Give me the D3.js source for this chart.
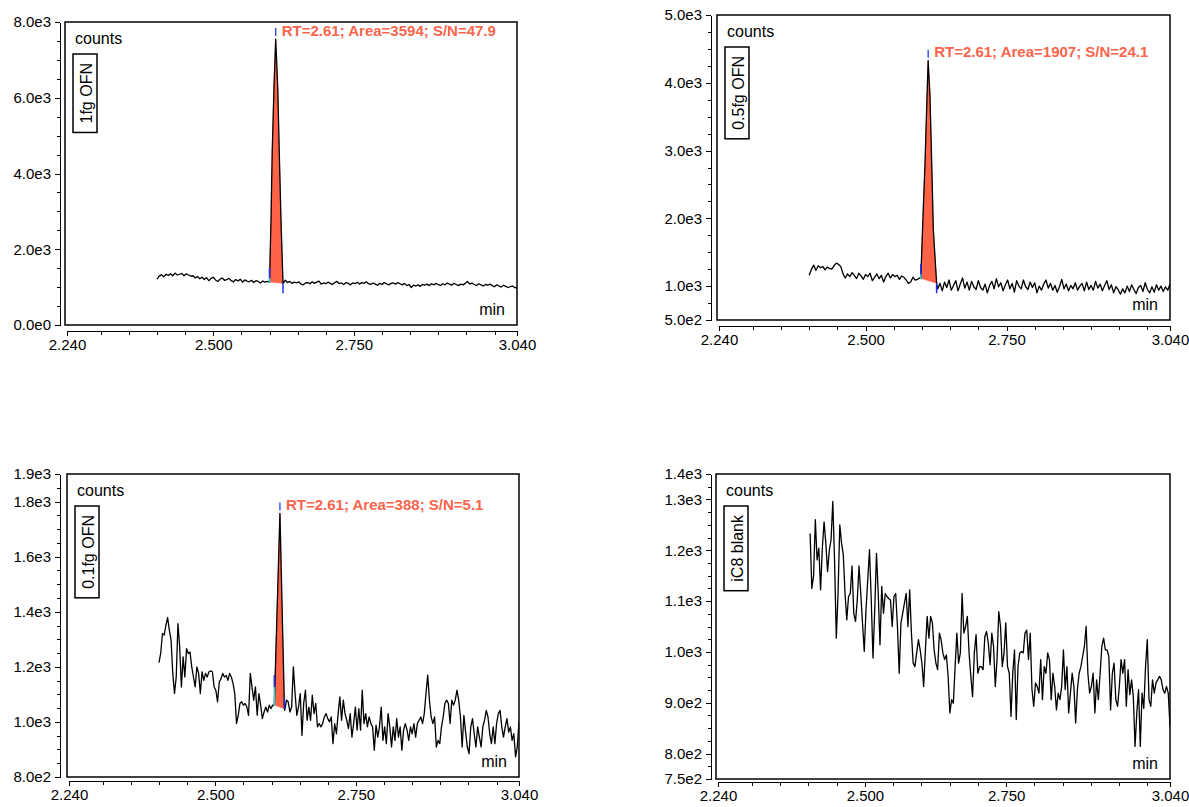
<!DOCTYPE html>
<html>
<head>
<meta charset="utf-8">
<script src="https://cdn.jsdelivr.net/npm/d3@7"></script>
<style>
  body { margin: 0; background: #fff; }
  svg { display: block; font-family: "Liberation Sans", Arial, sans-serif; }
  .axis path, .axis line { stroke: #000; stroke-width: 1; shape-rendering: crispEdges; }
  .axis text { font-size: 15px; fill: #000; font-family: "Liberation Sans", Arial, sans-serif; }
</style>
</head>
<body>
<svg id="chart" width="1189" height="807"></svg>
<script>
// ---- data ----
const panelNames = ["1fg OFN", "0.5fg OFN", "0.1fg OFN", "iC8 blank"];
const peakLabels = ["RT=2.61; Area=3594; S/N=47.9", "RT=2.61; Area=1907; S/N=24.1", "RT=2.61; Area=388; S/N=5.1", null];

const xTicks = [2.24, 2.5, 2.75, 3.04];
const xTickLabels = ["2.240", "2.500", "2.750", "3.040"];
const xMinor = [2.30, 2.35, 2.40, 2.45, 2.55, 2.60, 2.65, 2.70, 2.80, 2.85, 2.90, 2.95, 3.00];

const yDomains = [[0, 8000], [500, 5000], [800, 1900], [750, 1350]];
const yTicks = [
  [0, 2000, 4000, 6000, 8000],
  [500, 1000, 2000, 3000, 4000, 5000],
  [800, 1000, 1200, 1400, 1600, 1800, 1900],
  [750, 800, 900, 1000, 1100, 1200, 1300, 1350]
];
const yTickLabels = [
  ["0.0e0", "2.0e3", "4.0e3", "6.0e3", "8.0e3"],
  ["5.0e2", "1.0e3", "2.0e3", "3.0e3", "4.0e3", "5.0e3"],
  ["8.0e2", "1.0e3", "1.2e3", "1.4e3", "1.6e3", "1.8e3", "1.9e3"],
  ["7.5e2", "8.0e2", "9.0e2", "1.0e3", "1.1e3", "1.2e3", "1.3e3", "1.4e3"]
];
const yMinorSteps = [500, 250, 50, 25];

// sampled traces (evenly spaced between traceStart and traceEnd, minutes)
const traceStart = [2.400, 2.400, 2.400, 2.403];
const traceEnd = [3.040, 3.040, 3.040, 3.040];

const trace1 = [
  1210, 1290, 1330, 1270, 1340, 1310, 1350, 1300, 1370, 1320,
  1340, 1360, 1300, 1350, 1320, 1290, 1300, 1240, 1280, 1220,
  1260, 1200, 1250, 1170, 1230, 1260, 1190, 1150, 1210, 1240,
  1180, 1200, 1230, 1170, 1140, 1200, 1160, 1210, 1130, 1190,
  1160, 1140, 1180, 1120, 1170, 1150, 1110, 1160, 1130, 1150,
  1135, 1130, 1120, 1120, 1110, 1110, 1100,
  1180, 1120, 1150, 1100, 1130, 1110, 1140, 1080, 1060, 1110,
  1120, 1090, 1140, 1100, 1130, 1160, 1080, 1110, 1090, 1130,
  1100, 1070, 1120, 1150, 1090, 1110, 1070, 1120, 1100, 1060,
  1110, 1090, 1130, 1080, 1120, 1100, 1140, 1090, 1070, 1110,
  1080, 1050, 1100, 1070, 1120, 1090, 1060, 1100, 1110, 1080,
  1120, 1090, 1060, 1100, 1040, 1070, 990, 1050, 1030, 1060,
  1020, 1070, 1050, 1080, 1040, 1090, 1060, 1100, 1070, 1040,
  1090, 1060, 1110, 1080, 1050, 1100, 1070, 1040, 1080, 1060,
  1100, 1150, 1080, 1110, 1070, 1040, 1090, 1060, 1030, 1070,
  1050, 1080, 1040, 1010, 1060, 1030, 1000, 1050, 1020, 990,
  1010, 1030, 990, 980
];

const trace2 = [
  1160, 1250, 1310, 1230, 1300, 1270, 1290, 1240, 1280, 1260,
  1250, 1300, 1340, 1320, 1290, 1180, 1120, 1180, 1140, 1200,
  1160, 1110, 1190, 1150, 1100, 1170, 1140, 1190, 1080, 1130,
  1180, 1110, 1160, 1060, 1140, 1190, 1120, 1170, 1140, 1160,
  1100, 1150, 1130, 1090, 1040, 1060, 1130, 1090, 1100, 1120,
  1115, 1100, 1090, 1080, 1070, 1060, 1050,
  960, 1040, 930, 1060, 980, 1090, 940, 1010, 1080, 930,
  1030, 1120, 970, 1060, 940, 1070, 990, 950, 1080, 980,
  940, 1030, 900, 1010, 1070, 960, 1110, 990, 1050, 930,
  1020, 1090, 960, 1040, 910, 1080, 1000, 960, 1090, 990,
  950, 1060, 980, 1050, 900, 1000, 940, 1030, 1090, 970,
  1040, 940, 1010, 910, 990, 1100, 960, 1030, 930, 1010,
  960, 1050, 940, 1000, 1040, 930, 1060, 950, 1010, 940,
  1070, 970, 1030, 930, 1010, 1080, 950, 1020, 900, 990,
  950, 880, 960, 900, 1000, 920, 1020, 950, 890, 980,
  1010, 920, 1050, 950, 900, 990, 910, 1020, 940, 1000,
  920, 990, 940, 1030
];

const trace3 = [
  1215, 1250, 1321, 1315, 1350, 1379, 1333, 1297, 1176, 1103,
  1163, 1357, 1272, 1127, 1236, 1163, 1266, 1248, 1254, 1200,
  1163, 1127, 1200, 1176, 1103, 1182, 1151, 1176, 1163, 1182,
  1185, 1182, 1127, 1115, 1073, 1145, 1157, 1176, 1163, 1169,
  1151, 1176, 1163, 1139, 1103, 994, 1024, 1067, 1073, 1061,
  1067, 1054, 1024, 1176, 1127, 1079, 1127, 1024, 1103, 1061,
  1012, 1036, 1054, 1036, 1061, 1048, 1061, 1061, 1055, 1050,
  1050, 1048, 1048, 1042, 1079, 1073, 1036, 1054, 1200, 1103,
  1024, 1054, 1103, 951, 1067, 1115, 1006, 1054, 1006, 1097,
  1030, 1067, 982, 994, 982, 994, 1018, 1030, 1012, 1000,
  1018, 921, 994, 957, 1030, 1091, 1006, 1079, 1030, 1006,
  976, 1030, 945, 994, 1054, 970, 1048, 970, 1115, 994,
  1030, 982, 1018, 994, 982, 897, 988, 945, 982, 1054,
  933, 982, 921, 1030, 982, 909, 982, 933, 1012, 945,
  982, 897, 970, 994, 970, 933, 982, 957, 994, 945,
  994, 1006, 1018, 994, 1030, 1103, 1170, 1079, 1018, 994,
  1018, 909, 933, 921, 982, 1018, 1067, 1079, 1067, 994,
  1079, 1061, 1079, 1115, 1079, 1018, 909, 1024, 963, 909,
  885, 982, 1012, 957, 909, 982, 945, 909, 982, 1006,
  1042, 1018, 957, 921, 982, 921, 994, 1030, 1042, 982,
  945, 982, 1012, 963, 982, 933, 957, 873, 909, 1000
];

const trace4 = [
  1233, 1125, 1150, 1260, 1181, 1204, 1122, 1204, 1256, 1214,
  1158, 1200, 1221, 1296, 1180, 1027, 1115, 1250, 1214, 1191,
  1115, 1063, 1109, 1115, 1169, 1076, 1060, 1102, 1169, 1115,
  1057, 1001, 1083, 1142, 1201, 1102, 988, 1083, 1194, 1115,
  1014, 1129, 1076, 1115, 1109, 1105, 1102, 1050, 1109, 1115,
  1050, 958, 1057, 1076, 1096, 1115, 1050, 1122, 1037, 978,
  971, 998, 1024, 1004, 978, 932, 1004, 1070, 1027, 1070,
  1057, 1004, 978, 965, 1037, 1024, 998, 985, 994, 952,
  880, 906, 899, 971, 1037, 978, 998, 1115, 1037, 1050,
  1070, 998, 952, 912, 998, 1034, 958, 971, 971, 965,
  1030, 1040, 1017, 975, 1037, 1011, 932, 985, 1079, 1050,
  971, 998, 1057, 971, 958, 873, 958, 1004, 867, 971,
  998, 1001, 998, 1037, 1043, 985, 1037, 926, 893, 939,
  932, 919, 985, 906, 971, 958, 998, 985, 906, 958,
  932, 886, 919, 906, 932, 1004, 926, 971, 880, 919,
  958, 932, 860, 926, 958, 971, 991, 1011, 1050, 958,
  919, 932, 958, 880, 945, 906, 958, 1011, 1027, 1004,
  1004, 991, 886, 958, 978, 906, 893, 932, 985, 958,
  985, 893, 965, 916, 945, 912, 814, 880, 926, 814,
  919, 889, 971, 1024, 906, 893, 945, 919, 939, 945,
  952, 945, 926, 919, 932, 919, 854
];

// integrated peaks: time (min) and counts, start .. apex .. end
const peakT1 = [2.600, 2.6027, 2.6048, 2.608, 2.611, 2.6146, 2.6174, 2.6204, 2.624];
const peakV1 = [1135, 2770, 4540, 6290, 7550, 6290, 4540, 2770, 1100];
const peakT2 = [2.598, 2.601, 2.6054, 2.609, 2.611, 2.6143, 2.6173, 2.6202, 2.626];
const peakV2 = [1115, 1828, 2811, 3794, 4325, 3794, 2811, 1828, 1041];
const peakT3 = [2.605, 2.615, 2.623];
const peakV3 = [1061, 1757, 1048];

const traces = [trace1, trace2, trace3, trace4];
const peakTs = [peakT1, peakT2, peakT3, null];
const peakVs = [peakV1, peakV2, peakV3, null];

// ---- layout ----
const layout = [
  { left: 65, right: 517, top: 22, bottom: 325, axisX: 60, axisY: 331, startMark: [14, 4], endDir: 1 },
  { left: 717, right: 1170, top: 15, bottom: 320, axisX: 711, axisY: 326, startMark: [14, 4], endDir: 1 },
  { left: 67, right: 519, top: 474, bottom: 777, axisX: 60, axisY: 781, startMark: [30, 18], endDir: -1 },
  { left: 716, right: 1170, top: 474, bottom: 779, axisX: 711, axisY: 782, startMark: [14, 4], endDir: 1 }
];

const peakText = "#f9654c";
const peakFill = "#ff6347";

const svg = d3.select("#chart");

function buildSeries(vals, t0, t1, pT, pV) {
  const n = vals.length;
  const pts = vals.map((v, i) => ({ t: t0 + i * (t1 - t0) / (n - 1), v }));
  if (!pT) return pts;
  const a = pT[0], b = pT[pT.length - 1];
  const peak = pT.map((t, i) => ({ t, v: pV[i] }));
  return pts.filter(d => d.t < a - 1e-6)
    .concat(peak, pts.filter(d => d.t > b + 1e-6));
}

layout.forEach((L, k) => {
  const g = svg.append("g");

  const xs = d3.scaleLinear().domain([2.24, 3.04]).range([L.left + 2, L.right]);
  const ys = d3.scaleLinear().domain(yDomains[k]).range([L.bottom, L.top]);

  const clipId = "clip" + k;
  g.append("clipPath").attr("id", clipId)
    .append("rect")
    .attr("x", L.left).attr("y", L.top)
    .attr("width", L.right - L.left).attr("height", L.bottom - L.top);

  const line = d3.line().x(d => xs(d.t)).y(d => ys(d.v));
  const series = buildSeries(traces[k], traceStart[k], traceEnd[k], peakTs[k], peakVs[k]);

  // peak area: curve closed by straight baseline
  if (peakTs[k]) {
    const pk = peakTs[k].map((t, i) => ({ t, v: peakVs[k][i] }));
    g.append("path")
      .attr("clip-path", `url(#${clipId})`)
      .attr("d", line(pk) + "Z")
      .attr("fill", peakFill)
      .attr("stroke", peakFill)
      .attr("stroke-width", 0.6);
  }

  g.append("path")
    .datum(series)
    .attr("clip-path", `url(#${clipId})`)
    .attr("d", line)
    .attr("fill", "none")
    .attr("stroke", "#000")
    .attr("stroke-width", 1.3)
    .attr("stroke-linejoin", "round");

  // plot frame
  g.append("rect")
    .attr("x", L.left).attr("y", L.top)
    .attr("width", L.right - L.left).attr("height", L.bottom - L.top)
    .attr("fill", "none").attr("stroke", "#000").attr("stroke-width", 1.5);

  // peak markers + label
  if (peakTs[k]) {
    const pT = peakTs[k], pV = peakVs[k];
    const n = pT.length;
    const apex = d3.maxIndex(pV);
    const sx = xs(pT[0]), sy = ys(pV[0]);
    g.append("line").attr("x1", sx).attr("x2", sx)
      .attr("y1", sy - L.startMark[0]).attr("y2", sy - L.startMark[1])
      .attr("stroke", "#1a2cff").attr("stroke-width", 1.5);
    g.append("line").attr("x1", sx).attr("x2", sx)
      .attr("y1", sy - L.startMark[1]).attr("y2", sy + 1)
      .attr("stroke", "#22d3d8").attr("stroke-width", 1.5);
    const ex = xs(pT[n - 1]), ey = ys(pV[n - 1]);
    g.append("line").attr("x1", ex).attr("x2", ex)
      .attr("y1", ey).attr("y2", ey + 10 * L.endDir)
      .attr("stroke", "#1a2cff").attr("stroke-width", 1.5);
    const ax = xs(pT[apex]), ay = ys(pV[apex]);
    g.append("line").attr("x1", ax).attr("x2", ax)
      .attr("y1", ay - 11).attr("y2", ay - 3)
      .attr("stroke", "#1a2cff").attr("stroke-width", 1.2);
    g.append("text")
      .attr("x", ax + 6).attr("y", ay - 9)
      .attr("dominant-baseline", "central")
      .attr("font-size", 15).attr("font-weight", "bold")
      .attr("fill", peakText)
      .text(peakLabels[k]);
  }

  // y axis (detached, left of frame)
  const yLab = yTickLabels[k];
  g.append("g").attr("class", "axis")
    .attr("transform", `translate(${L.axisX},0)`)
    .call(d3.axisLeft(ys).tickValues(yTicks[k])
      .tickFormat((d, i) => yLab[i]).tickSize(5).tickSizeOuter(0).tickPadding(4));
  const [y0, y1] = yDomains[k];
  const yMin = d3.range(y0, y1 + 1e-9, yMinorSteps[k]).filter(v => !yTicks[k].includes(v));
  g.append("g").attr("class", "axis")
    .attr("transform", `translate(${L.axisX},0)`)
    .call(d3.axisLeft(ys).tickValues(yMin).tickFormat("").tickSize(3).tickSizeOuter(0))
    .call(a => a.select(".domain").remove());

  // x axis (detached, below frame)
  g.append("g").attr("class", "axis")
    .attr("transform", `translate(0,${L.axisY})`)
    .call(d3.axisBottom(xs).tickValues(xTicks)
      .tickFormat((d, i) => xTickLabels[i]).tickSize(5).tickSizeOuter(0).tickPadding(3));
  g.append("g").attr("class", "axis")
    .attr("transform", `translate(0,${L.axisY})`)
    .call(d3.axisBottom(xs).tickValues(xMinor).tickFormat("").tickSize(4).tickSizeOuter(0))
    .call(a => a.select(".domain").remove());

  // in-frame labels
  g.append("text")
    .attr("x", L.left + 10).attr("y", L.top + 16)
    .attr("dominant-baseline", "central")
    .attr("font-size", 16).attr("fill", "#000")
    .text("counts");
  g.append("text")
    .attr("x", L.right - 12).attr("y", L.bottom - 16)
    .attr("text-anchor", "end").attr("dominant-baseline", "central")
    .attr("font-size", 16).attr("fill", "#000")
    .text("min");

  const nameG = g.append("g");
  const nameText = nameG.append("text")
    .attr("font-size", 16).attr("fill", "#000")
    .attr("text-anchor", "middle").attr("dominant-baseline", "central")
    .text(panelNames[k]);
  const tw = nameText.node().getComputedTextLength();
  const bx = L.left + 8, by = L.top + 32, bw = 24, bh = tw + 18;
  nameG.insert("rect", "text")
    .attr("x", bx).attr("y", by).attr("width", bw).attr("height", bh)
    .attr("fill", "#fff").attr("stroke", "#000").attr("stroke-width", 1.5);
  nameText.attr("transform", `translate(${bx + bw / 2 + 1},${by + bh / 2}) rotate(-90)`);
});
</script>
</body>
</html>
